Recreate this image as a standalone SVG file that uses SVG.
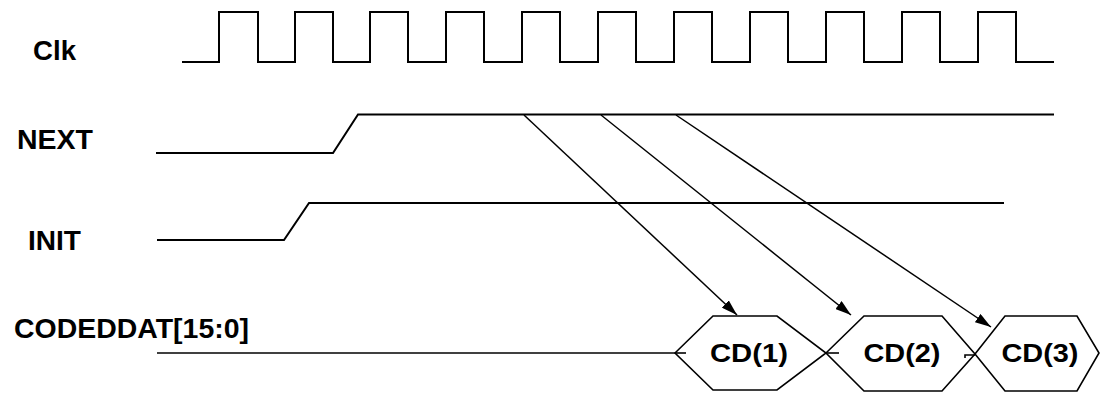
<svg xmlns="http://www.w3.org/2000/svg" width="1101" height="393" viewBox="0 0 1101 393">
<style>
.lbl{font-family:"Liberation Sans",Arial,Helvetica,sans-serif;font-weight:bold;font-size:28px;fill:#000}
.cd{font-family:"Liberation Sans",Arial,Helvetica,sans-serif;font-weight:bold;font-size:25px;fill:#000;text-anchor:middle}
.wave{fill:none;stroke:#000;stroke-width:2;stroke-linejoin:miter}
.bus{fill:none;stroke:#000;stroke-width:1.6;stroke-linejoin:miter}
.arr{fill:none;stroke:#000;stroke-width:1.5;marker-end:url(#ah)}
</style>
<defs>
<marker id="ah" viewBox="0 0 16 10" refX="16" refY="5" markerWidth="16" markerHeight="10" markerUnits="userSpaceOnUse" orient="auto">
<path d="M0,0 L16,5 L0,10 Z" fill="#000"/>
</marker>
</defs>
<rect width="1101" height="393" fill="#fff"/>
<g id="clk">
<text class="lbl" x="33" y="60" font-size="25" textLength="43" lengthAdjust="spacingAndGlyphs">Clk</text>
<path class="wave" d="M182,62 H219 V12 H258 V62 H295 V12 H333 V62 H370 V12 H408 V62 H446 V12 H484 V62 H522 V12 H560 V62 H598 V12 H636 V62 H674 V12 H712 V62 H750 V12 H788 V62 H826 V12 H864 V62 H902 V12 H940 V62 H978 V12 H1016 V62 H1054"/>
</g>
<g id="next">
<text class="lbl" x="17" y="149" textLength="76" lengthAdjust="spacingAndGlyphs">NEXT</text>
<path class="wave" d="M156,153 H333 L358,114.5 H1054"/>
</g>
<g id="init">
<text class="lbl" x="28" y="250" textLength="53" lengthAdjust="spacingAndGlyphs">INIT</text>
<path class="wave" d="M157,240 H284 L309,203 H1004"/>
</g>
<g id="codeddat">
<text class="lbl" x="14" y="338" textLength="235" lengthAdjust="spacingAndGlyphs">CODEDDAT[15:0]</text>
<path class="bus" d="M157,353 H675"/>
</g>
<g id="cd1">
<polygon class="bus" points="675,353 713,316 777,316 826,353 777,390 713,390"/>
<path class="bus" d="M675,353 H686"/>
<text class="cd" x="749" y="362" textLength="78" lengthAdjust="spacingAndGlyphs">CD(1)</text>
</g>
<g id="cd2">
<polygon class="bus" points="826,353 864,316 942,316 975,354 942,391 864,391"/>
<path class="bus" d="M826,353 H839"/>
<text class="cd" x="902" y="362" textLength="77" lengthAdjust="spacingAndGlyphs">CD(2)</text>
</g>
<g id="cd3">
<polygon class="bus" points="975,354 1005,316 1077,316 1099,353 1077,391 1005,391"/>
<path class="bus" d="M965,358 V355 H975"/>
<text class="cd" x="1040" y="362" textLength="77" lengthAdjust="spacingAndGlyphs">CD(3)</text>
</g>
<g id="connectors">
<path class="arr" d="M524,115 L737,315"/>
<path class="arr" d="M601,115 L851,315"/>
<path class="arr" d="M676,115 L991,327"/>
</g>
</svg>
